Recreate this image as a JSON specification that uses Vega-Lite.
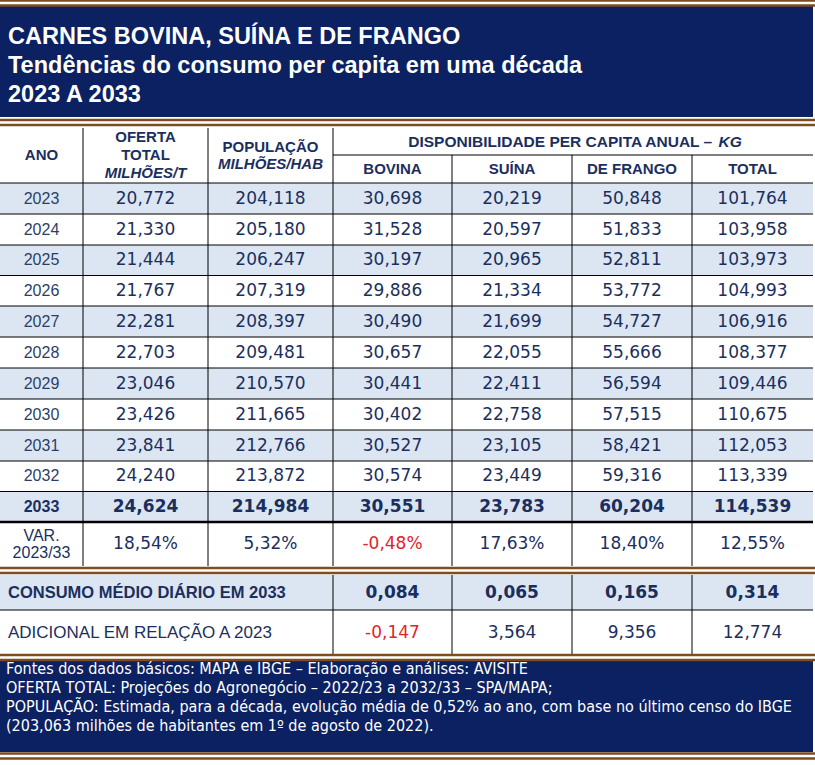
{
 "$schema": "https://vega.github.io/schema/vega-lite/v6.json",
 "width": 815, "height": 765, "autosize": {"type": "none"}, "padding": 0,
 "background": "white",
 "config": {"view": {"stroke": null},
  "locale": {"number": {"decimal": ",", "thousands": ".", "grouping": [3], "currency": ["", ""], "minus": "-"}}},
 "datasets": {
  "notes": [
   {"part": "title", "r": 0, "txt": "CARNES BOVINA, SUÍNA E DE FRANGO\nTendências do consumo per capita em uma década\n2023 A 2033"},
   {"part": "footer", "r": 20, "txt": "Fontes dos dados básicos: MAPA e IBGE – Elaboração e análises: AVISITE\nOFERTA TOTAL: Projeções do Agronegócio – 2022/23 a 2032/33 – SPA/MAPA;\nPOPULAÇÃO: Estimada, para a década, evolução média de 0,52% ao ano, com base no último censo do IBGE\n(203,063 milhões de habitantes em 1º de agosto de 2022)."}
  ],
  "cols": [
   {"key": "oferta", "c": 1.5}, {"key": "pop", "c": 2.5}, {"key": "bovina", "c": 3.5},
   {"key": "suina", "c": 4.5}, {"key": "frango", "c": 5.5}, {"key": "total", "c": 6.5}
  ],
  "hdr": [
   {"txt": "ANO", "c": 0.5, "r": 3},
   {"txt": "OFERTA", "c": 1.5, "r": 2.33},
   {"txt": "TOTAL", "c": 1.5, "r": 3},
   {"txt": "POPULAÇÃO", "c": 2.5, "r": 2.7},
   {"txt": "BOVINA", "c": 3.5, "r": 3.5},
   {"txt": "SUÍNA", "c": 4.5, "r": 3.5},
   {"txt": "DE FRANGO", "c": 5.5, "r": 3.5},
   {"txt": "TOTAL", "c": 6.5, "r": 3.5}
  ],
  "hdrItalic": [
   {"txt": "MILHÕES/T", "c": 1.5, "r": 3.64},
   {"txt": "MILHÕES/HAB", "c": 2.5, "r": 3.32},
   {"txt": "KG", "c": 6.22, "r": 2.5}
  ],
  "hdrSpan": [
   {"txt": "DISPONIBILIDADE PER CAPITA ANUAL –", "c": 6.2, "r": 2.5}
  ],
  "years": [
   {"ano": "2023", "r": 4, "oferta": 20.772, "pop": 204.118, "bovina": 30.698, "suina": 20.219, "frango": 50.848, "total": 101.764},
   {"ano": "2024", "r": 5, "oferta": 21.330, "pop": 205.180, "bovina": 31.528, "suina": 20.597, "frango": 51.833, "total": 103.958},
   {"ano": "2025", "r": 6, "oferta": 21.444, "pop": 206.247, "bovina": 30.197, "suina": 20.965, "frango": 52.811, "total": 103.973},
   {"ano": "2026", "r": 7, "oferta": 21.767, "pop": 207.319, "bovina": 29.886, "suina": 21.334, "frango": 53.772, "total": 104.993},
   {"ano": "2027", "r": 8, "oferta": 22.281, "pop": 208.397, "bovina": 30.490, "suina": 21.699, "frango": 54.727, "total": 106.916},
   {"ano": "2028", "r": 9, "oferta": 22.703, "pop": 209.481, "bovina": 30.657, "suina": 22.055, "frango": 55.666, "total": 108.377},
   {"ano": "2029", "r": 10, "oferta": 23.046, "pop": 210.570, "bovina": 30.441, "suina": 22.411, "frango": 56.594, "total": 109.446},
   {"ano": "2030", "r": 11, "oferta": 23.426, "pop": 211.665, "bovina": 30.402, "suina": 22.758, "frango": 57.515, "total": 110.675},
   {"ano": "2031", "r": 12, "oferta": 23.841, "pop": 212.766, "bovina": 30.527, "suina": 23.105, "frango": 58.421, "total": 112.053},
   {"ano": "2032", "r": 13, "oferta": 24.240, "pop": 213.872, "bovina": 30.574, "suina": 23.449, "frango": 59.316, "total": 113.339},
   {"ano": "2033", "r": 14, "oferta": 24.624, "pop": 214.984, "bovina": 30.551, "suina": 23.783, "frango": 60.204, "total": 114.539}
  ],
  "var": [
   {"label": "VAR.\n2023/33", "r": 15, "oferta": 0.1854, "pop": 0.0532, "bovina": -0.0048, "suina": 0.1763, "frango": 0.1840, "total": 0.1255}
  ],
  "daily": [
   {"label": "CONSUMO MÉDIO DIÁRIO EM 2033", "r": 17, "bovina": 0.084, "suina": 0.065, "frango": 0.165, "total": 0.314},
   {"label": "ADICIONAL EM RELAÇÃO A 2023", "r": 18, "bovina": -0.147, "suina": 3.564, "frango": 9.356, "total": 12.774}
  ],
  "hlines": [
   {"r": 3, "c0": 3, "c1": 7}, {"r": 4, "c0": 0, "c1": 7}, {"r": 5, "c0": 0, "c1": 7}, {"r": 6, "c0": 0, "c1": 7},
   {"r": 7, "c0": 0, "c1": 7}, {"r": 8, "c0": 0, "c1": 7}, {"r": 9, "c0": 0, "c1": 7}, {"r": 10, "c0": 0, "c1": 7},
   {"r": 11, "c0": 0, "c1": 7}, {"r": 12, "c0": 0, "c1": 7}, {"r": 13, "c0": 0, "c1": 7}, {"r": 14, "c0": 0, "c1": 7},
   {"r": 15, "c0": 0, "c1": 7}, {"r": 18, "c0": 0, "c1": 7}
  ],
  "vlines": [
   {"c": 1, "r0": 2, "r1": 16}, {"c": 2, "r0": 2, "r1": 16}, {"c": 3, "r0": 2, "r1": 16}, {"c": 3, "r0": 17, "r1": 19},
   {"c": 4, "r0": 3, "r1": 16}, {"c": 4, "r0": 17, "r1": 19}, {"c": 5, "r0": 3, "r1": 16}, {"c": 5, "r0": 17, "r1": 19},
   {"c": 6, "r0": 3, "r1": 16}, {"c": 6, "r0": 17, "r1": 19}
  ],
  "seps": [{"s": -0.5}, {"s": 1.5}, {"s": 16.5}, {"s": 19.5}, {"s": 21.5}]
 },
 "layer": [
  {"data": {"name": "notes"}, "transform": [{"calculate": "datum.r + 1", "as": "r1"}],
   "mark": {"type": "rect", "color": "#0b2161"},
   "encoding": {
    "x": {"datum": 0, "type": "quantitative", "axis": null, "scale": {"domain": [0,1,2,3,4,5,6,7], "range": [0,83,208,333,452,572,692,813], "zero": false, "nice": false}},
    "x2": {"datum": 7},
    "y": {"field": "r", "type": "quantitative", "axis": null, "scale": {"domain": [-1,0,1,2,3,4,5,6,7,8,9,10,11,12,13,14,15,16,17,18,19,20,21,22,23], "range": [0,6,117,128,155,183,214,245,275.5,306,337,368,399,430,461,491.5,522,566,575,610,655,660,752,760,765], "zero": false, "nice": false}},
    "y2": {"field": "r1"}}},
  {"data": {"name": "years"}, "transform": [{"filter": "datum.r % 2 == 0"}, {"calculate": "datum.r + 1", "as": "r1"}],
   "mark": {"type": "rect", "color": "#dce6f2"},
   "encoding": {
    "x": {"datum": 0, "type": "quantitative", "axis": null, "scale": {"domain": [0,1,2,3,4,5,6,7], "range": [0,83,208,333,452,572,692,813], "zero": false, "nice": false}},
    "x2": {"datum": 7},
    "y": {"field": "r", "type": "quantitative", "axis": null, "scale": {"domain": [-1,0,1,2,3,4,5,6,7,8,9,10,11,12,13,14,15,16,17,18,19,20,21,22,23], "range": [0,6,117,128,155,183,214,245,275.5,306,337,368,399,430,461,491.5,522,566,575,610,655,660,752,760,765], "zero": false, "nice": false}},
    "y2": {"field": "r1"}}},
  {"data": {"name": "daily"}, "transform": [{"filter": "datum.r == 17"}, {"calculate": "datum.r + 1", "as": "r1"}],
   "mark": {"type": "rect", "color": "#dce6f2"},
   "encoding": {
    "x": {"datum": 0, "type": "quantitative", "axis": null, "scale": {"domain": [0,1,2,3,4,5,6,7], "range": [0,83,208,333,452,572,692,813], "zero": false, "nice": false}},
    "x2": {"datum": 7},
    "y": {"field": "r", "type": "quantitative", "axis": null, "scale": {"domain": [-1,0,1,2,3,4,5,6,7,8,9,10,11,12,13,14,15,16,17,18,19,20,21,22,23], "range": [0,6,117,128,155,183,214,245,275.5,306,337,368,399,430,461,491.5,522,566,575,610,655,660,752,760,765], "zero": false, "nice": false}},
    "y2": {"field": "r1"}}},
  {"data": {"name": "hlines"},
   "mark": {"type": "rule", "color": "#000000"},
   "encoding": {
    "x": {"field": "c0", "type": "quantitative", "axis": null, "scale": {"domain": [0,1,2,3,4,5,6,7], "range": [0,83,208,333,452,572,692,813], "zero": false, "nice": false}},
    "x2": {"field": "c1"},
    "y": {"field": "r", "type": "quantitative", "axis": null, "scale": {"domain": [-1,0,1,2,3,4,5,6,7,8,9,10,11,12,13,14,15,16,17,18,19,20,21,22,23], "range": [0,6,117,128,155,183,214,245,275.5,306,337,368,399,430,461,491.5,522,566,575,610,655,660,752,760,765], "zero": false, "nice": false}},
    "strokeWidth": {"condition": {"test": "datum.r == 15", "value": 2.5}, "value": 1}}},
  {"data": {"name": "vlines"},
   "mark": {"type": "rule", "color": "#000000", "strokeWidth": 1},
   "encoding": {
    "x": {"field": "c", "type": "quantitative", "axis": null, "scale": {"domain": [0,1,2,3,4,5,6,7], "range": [0,83,208,333,452,572,692,813], "zero": false, "nice": false}},
    "y": {"field": "r0", "type": "quantitative", "axis": null, "scale": {"domain": [-1,0,1,2,3,4,5,6,7,8,9,10,11,12,13,14,15,16,17,18,19,20,21,22,23], "range": [0,6,117,128,155,183,214,245,275.5,306,337,368,399,430,461,491.5,522,566,575,610,655,660,752,760,765], "zero": false, "nice": false}},
    "y2": {"field": "r1"}}},
  {"data": {"name": "seps"},
   "mark": {"type": "rule", "color": "#7f4b20", "strokeWidth": 2.5, "yOffset": -2.5, "x2Offset": 2},
   "encoding": {
    "x": {"datum": 0, "type": "quantitative", "axis": null, "scale": {"domain": [0,1,2,3,4,5,6,7], "range": [0,83,208,333,452,572,692,813], "zero": false, "nice": false}},
    "x2": {"datum": 7},
    "y": {"field": "s", "type": "quantitative", "axis": null, "scale": {"domain": [-1,0,1,2,3,4,5,6,7,8,9,10,11,12,13,14,15,16,17,18,19,20,21,22,23], "range": [0,6,117,128,155,183,214,245,275.5,306,337,368,399,430,461,491.5,522,566,575,610,655,660,752,760,765], "zero": false, "nice": false}}}},
  {"data": {"name": "seps"},
   "mark": {"type": "rule", "color": "#7f4b20", "strokeWidth": 2.5, "yOffset": 2.5, "x2Offset": 2},
   "encoding": {
    "x": {"datum": 0, "type": "quantitative", "axis": null, "scale": {"domain": [0,1,2,3,4,5,6,7], "range": [0,83,208,333,452,572,692,813], "zero": false, "nice": false}},
    "x2": {"datum": 7},
    "y": {"field": "s", "type": "quantitative", "axis": null, "scale": {"domain": [-1,0,1,2,3,4,5,6,7,8,9,10,11,12,13,14,15,16,17,18,19,20,21,22,23], "range": [0,6,117,128,155,183,214,245,275.5,306,337,368,399,430,461,491.5,522,566,575,610,655,660,752,760,765], "zero": false, "nice": false}}}},
  {"data": {"name": "notes"}, "transform": [{"filter": "datum.part == 'title'"}],
   "mark": {"type": "text", "align": "left", "baseline": "alphabetic", "dx": 8, "dy": 38, "lineBreak": "\n", "lineHeight": 29,
            "font": "Liberation Sans", "fontWeight": "bold", "fontSize": 23.5, "color": "#ffffff"},
   "encoding": {
    "x": {"datum": 0, "type": "quantitative", "axis": null, "scale": {"domain": [0,1,2,3,4,5,6,7], "range": [0,83,208,333,452,572,692,813], "zero": false, "nice": false}},
    "y": {"field": "r", "type": "quantitative", "axis": null, "scale": {"domain": [-1,0,1,2,3,4,5,6,7,8,9,10,11,12,13,14,15,16,17,18,19,20,21,22,23], "range": [0,6,117,128,155,183,214,245,275.5,306,337,368,399,430,461,491.5,522,566,575,610,655,660,752,760,765], "zero": false, "nice": false}},
    "text": {"field": "txt"}}},
  {"data": {"name": "notes"}, "transform": [{"filter": "datum.part == 'footer'"}],
   "mark": {"type": "text", "align": "left", "baseline": "alphabetic", "dx": 6, "dy": 13.5, "lineBreak": "\n", "lineHeight": 19,
            "font": "Liberation Sans Narrow, DejaVu Sans Condensed, Liberation Sans", "fontSize": 16, "color": "#ffffff"},
   "encoding": {
    "x": {"datum": 0, "type": "quantitative", "axis": null, "scale": {"domain": [0,1,2,3,4,5,6,7], "range": [0,83,208,333,452,572,692,813], "zero": false, "nice": false}},
    "y": {"field": "r", "type": "quantitative", "axis": null, "scale": {"domain": [-1,0,1,2,3,4,5,6,7,8,9,10,11,12,13,14,15,16,17,18,19,20,21,22,23], "range": [0,6,117,128,155,183,214,245,275.5,306,337,368,399,430,461,491.5,522,566,575,610,655,660,752,760,765], "zero": false, "nice": false}},
    "text": {"field": "txt"}}},
  {"data": {"name": "hdr"},
   "mark": {"type": "text", "align": "center", "baseline": "middle", "font": "Liberation Sans", "fontWeight": "bold", "fontSize": 15, "color": "#1b2f5e"},
   "encoding": {
    "x": {"field": "c", "type": "quantitative", "axis": null, "scale": {"domain": [0,1,2,3,4,5,6,7], "range": [0,83,208,333,452,572,692,813], "zero": false, "nice": false}},
    "y": {"field": "r", "type": "quantitative", "axis": null, "scale": {"domain": [-1,0,1,2,3,4,5,6,7,8,9,10,11,12,13,14,15,16,17,18,19,20,21,22,23], "range": [0,6,117,128,155,183,214,245,275.5,306,337,368,399,430,461,491.5,522,566,575,610,655,660,752,760,765], "zero": false, "nice": false}},
    "text": {"field": "txt"}}},
  {"data": {"name": "hdrItalic"},
   "mark": {"type": "text", "align": "left", "baseline": "middle", "font": "Liberation Sans", "fontWeight": "bold", "fontStyle": "italic", "fontSize": 15.5, "color": "#1b2f5e"},
   "transform": [{"filter": "datum.txt == 'KG'"}],
   "encoding": {
    "x": {"field": "c", "type": "quantitative", "axis": null, "scale": {"domain": [0,1,2,3,4,5,6,7], "range": [0,83,208,333,452,572,692,813], "zero": false, "nice": false}},
    "y": {"field": "r", "type": "quantitative", "axis": null, "scale": {"domain": [-1,0,1,2,3,4,5,6,7,8,9,10,11,12,13,14,15,16,17,18,19,20,21,22,23], "range": [0,6,117,128,155,183,214,245,275.5,306,337,368,399,430,461,491.5,522,566,575,610,655,660,752,760,765], "zero": false, "nice": false}},
    "text": {"field": "txt"}}},
  {"data": {"name": "hdrItalic"},
   "mark": {"type": "text", "align": "center", "baseline": "middle", "font": "Liberation Sans", "fontWeight": "bold", "fontStyle": "italic", "fontSize": 15, "color": "#1b2f5e"},
   "transform": [{"filter": "datum.txt != 'KG'"}],
   "encoding": {
    "x": {"field": "c", "type": "quantitative", "axis": null, "scale": {"domain": [0,1,2,3,4,5,6,7], "range": [0,83,208,333,452,572,692,813], "zero": false, "nice": false}},
    "y": {"field": "r", "type": "quantitative", "axis": null, "scale": {"domain": [-1,0,1,2,3,4,5,6,7,8,9,10,11,12,13,14,15,16,17,18,19,20,21,22,23], "range": [0,6,117,128,155,183,214,245,275.5,306,337,368,399,430,461,491.5,522,566,575,610,655,660,752,760,765], "zero": false, "nice": false}},
    "text": {"field": "txt"}}},
  {"data": {"name": "hdrSpan"},
   "mark": {"type": "text", "align": "right", "baseline": "middle", "dx": -4, "font": "Liberation Sans", "fontWeight": "bold", "fontSize": 15.5, "color": "#1b2f5e"},
   "encoding": {
    "x": {"field": "c", "type": "quantitative", "axis": null, "scale": {"domain": [0,1,2,3,4,5,6,7], "range": [0,83,208,333,452,572,692,813], "zero": false, "nice": false}},
    "y": {"field": "r", "type": "quantitative", "axis": null, "scale": {"domain": [-1,0,1,2,3,4,5,6,7,8,9,10,11,12,13,14,15,16,17,18,19,20,21,22,23], "range": [0,6,117,128,155,183,214,245,275.5,306,337,368,399,430,461,491.5,522,566,575,610,655,660,752,760,765], "zero": false, "nice": false}},
    "text": {"field": "txt"}}},
  {"data": {"name": "years"}, "transform": [{"filter": "datum.ano != '2033'"}, {"calculate": "datum.r + 0.5", "as": "rc"}],
   "mark": {"type": "text", "align": "center", "baseline": "middle", "font": "Liberation Sans", "fontSize": 16, "color": "#2b3f66"},
   "encoding": {
    "x": {"datum": 0.5, "type": "quantitative", "axis": null, "scale": {"domain": [0,1,2,3,4,5,6,7], "range": [0,83,208,333,452,572,692,813], "zero": false, "nice": false}},
    "y": {"field": "rc", "type": "quantitative", "axis": null, "scale": {"domain": [-1,0,1,2,3,4,5,6,7,8,9,10,11,12,13,14,15,16,17,18,19,20,21,22,23], "range": [0,6,117,128,155,183,214,245,275.5,306,337,368,399,430,461,491.5,522,566,575,610,655,660,752,760,765], "zero": false, "nice": false}},
    "text": {"field": "ano"}}},
  {"data": {"name": "years"}, "transform": [{"filter": "datum.ano == '2033'"}, {"calculate": "datum.r + 0.5", "as": "rc"}],
   "mark": {"type": "text", "align": "center", "baseline": "middle", "font": "Liberation Sans", "fontWeight": "bold", "fontSize": 16, "color": "#1b2f5e"},
   "encoding": {
    "x": {"datum": 0.5, "type": "quantitative", "axis": null, "scale": {"domain": [0,1,2,3,4,5,6,7], "range": [0,83,208,333,452,572,692,813], "zero": false, "nice": false}},
    "y": {"field": "rc", "type": "quantitative", "axis": null, "scale": {"domain": [-1,0,1,2,3,4,5,6,7,8,9,10,11,12,13,14,15,16,17,18,19,20,21,22,23], "range": [0,6,117,128,155,183,214,245,275.5,306,337,368,399,430,461,491.5,522,566,575,610,655,660,752,760,765], "zero": false, "nice": false}},
    "text": {"field": "ano"}}},
  {"data": {"name": "years"},
   "transform": [{"filter": "datum.ano != '2033'"}, {"fold": ["oferta", "pop", "bovina", "suina", "frango", "total"]},
                 {"lookup": "key", "from": {"data": {"name": "cols"}, "key": "key", "fields": ["c"]}},
                 {"calculate": "datum.r + 0.5", "as": "rc"}],
   "mark": {"type": "text", "align": "center", "baseline": "middle", "font": "DejaVu Sans", "fontSize": 17, "color": "#1b2f5e"},
   "encoding": {
    "x": {"field": "c", "type": "quantitative", "axis": null, "scale": {"domain": [0,1,2,3,4,5,6,7], "range": [0,83,208,333,452,572,692,813], "zero": false, "nice": false}},
    "y": {"field": "rc", "type": "quantitative", "axis": null, "scale": {"domain": [-1,0,1,2,3,4,5,6,7,8,9,10,11,12,13,14,15,16,17,18,19,20,21,22,23], "range": [0,6,117,128,155,183,214,245,275.5,306,337,368,399,430,461,491.5,522,566,575,610,655,660,752,760,765], "zero": false, "nice": false}},
    "text": {"field": "value", "type": "quantitative", "format": ".3f"}}},
  {"data": {"name": "years"},
   "transform": [{"filter": "datum.ano == '2033'"}, {"fold": ["oferta", "pop", "bovina", "suina", "frango", "total"]},
                 {"lookup": "key", "from": {"data": {"name": "cols"}, "key": "key", "fields": ["c"]}},
                 {"calculate": "datum.r + 0.5", "as": "rc"}],
   "mark": {"type": "text", "align": "center", "baseline": "middle", "font": "DejaVu Sans", "fontWeight": "bold", "fontSize": 17, "color": "#1b2f5e"},
   "encoding": {
    "x": {"field": "c", "type": "quantitative", "axis": null, "scale": {"domain": [0,1,2,3,4,5,6,7], "range": [0,83,208,333,452,572,692,813], "zero": false, "nice": false}},
    "y": {"field": "rc", "type": "quantitative", "axis": null, "scale": {"domain": [-1,0,1,2,3,4,5,6,7,8,9,10,11,12,13,14,15,16,17,18,19,20,21,22,23], "range": [0,6,117,128,155,183,214,245,275.5,306,337,368,399,430,461,491.5,522,566,575,610,655,660,752,760,765], "zero": false, "nice": false}},
    "text": {"field": "value", "type": "quantitative", "format": ".3f"}}},
  {"data": {"name": "var"}, "transform": [{"calculate": "datum.r + 0.5", "as": "rc"}],
   "mark": {"type": "text", "align": "center", "baseline": "middle", "dy": -8, "lineBreak": "\n", "lineHeight": 17, "font": "Liberation Sans", "fontSize": 16, "color": "#1b2f5e"},
   "encoding": {
    "x": {"datum": 0.5, "type": "quantitative", "axis": null, "scale": {"domain": [0,1,2,3,4,5,6,7], "range": [0,83,208,333,452,572,692,813], "zero": false, "nice": false}},
    "y": {"field": "rc", "type": "quantitative", "axis": null, "scale": {"domain": [-1,0,1,2,3,4,5,6,7,8,9,10,11,12,13,14,15,16,17,18,19,20,21,22,23], "range": [0,6,117,128,155,183,214,245,275.5,306,337,368,399,430,461,491.5,522,566,575,610,655,660,752,760,765], "zero": false, "nice": false}},
    "text": {"field": "label"}}},
  {"data": {"name": "var"},
   "transform": [{"fold": ["oferta", "pop", "bovina", "suina", "frango", "total"]},
                 {"lookup": "key", "from": {"data": {"name": "cols"}, "key": "key", "fields": ["c"]}},
                 {"calculate": "datum.r + 0.5", "as": "rc"}],
   "mark": {"type": "text", "align": "center", "baseline": "middle", "font": "DejaVu Sans", "fontSize": 17},
   "encoding": {
    "x": {"field": "c", "type": "quantitative", "axis": null, "scale": {"domain": [0,1,2,3,4,5,6,7], "range": [0,83,208,333,452,572,692,813], "zero": false, "nice": false}},
    "y": {"field": "rc", "type": "quantitative", "axis": null, "scale": {"domain": [-1,0,1,2,3,4,5,6,7,8,9,10,11,12,13,14,15,16,17,18,19,20,21,22,23], "range": [0,6,117,128,155,183,214,245,275.5,306,337,368,399,430,461,491.5,522,566,575,610,655,660,752,760,765], "zero": false, "nice": false}},
    "text": {"field": "value", "type": "quantitative", "format": ".2%"},
    "color": {"condition": {"test": "datum.value < 0", "value": "#e8202a"}, "value": "#1b2f5e"}}},
  {"data": {"name": "daily"}, "transform": [{"filter": "datum.r == 17"}, {"calculate": "datum.r + 0.5", "as": "rc"}],
   "mark": {"type": "text", "align": "left", "baseline": "middle", "dx": 8, "font": "Liberation Sans", "fontWeight": "bold", "fontSize": 16.5, "color": "#1b2f5e"},
   "encoding": {
    "x": {"datum": 0, "type": "quantitative", "axis": null, "scale": {"domain": [0,1,2,3,4,5,6,7], "range": [0,83,208,333,452,572,692,813], "zero": false, "nice": false}},
    "y": {"field": "rc", "type": "quantitative", "axis": null, "scale": {"domain": [-1,0,1,2,3,4,5,6,7,8,9,10,11,12,13,14,15,16,17,18,19,20,21,22,23], "range": [0,6,117,128,155,183,214,245,275.5,306,337,368,399,430,461,491.5,522,566,575,610,655,660,752,760,765], "zero": false, "nice": false}},
    "text": {"field": "label"}}},
  {"data": {"name": "daily"}, "transform": [{"filter": "datum.r == 18"}, {"calculate": "datum.r + 0.5", "as": "rc"}],
   "mark": {"type": "text", "align": "left", "baseline": "middle", "dx": 8, "font": "Liberation Sans", "fontSize": 17, "color": "#1b2f5e"},
   "encoding": {
    "x": {"datum": 0, "type": "quantitative", "axis": null, "scale": {"domain": [0,1,2,3,4,5,6,7], "range": [0,83,208,333,452,572,692,813], "zero": false, "nice": false}},
    "y": {"field": "rc", "type": "quantitative", "axis": null, "scale": {"domain": [-1,0,1,2,3,4,5,6,7,8,9,10,11,12,13,14,15,16,17,18,19,20,21,22,23], "range": [0,6,117,128,155,183,214,245,275.5,306,337,368,399,430,461,491.5,522,566,575,610,655,660,752,760,765], "zero": false, "nice": false}},
    "text": {"field": "label"}}},
  {"data": {"name": "daily"},
   "transform": [{"filter": "datum.r == 17"}, {"fold": ["bovina", "suina", "frango", "total"]},
                 {"lookup": "key", "from": {"data": {"name": "cols"}, "key": "key", "fields": ["c"]}},
                 {"calculate": "datum.r + 0.5", "as": "rc"}],
   "mark": {"type": "text", "align": "center", "baseline": "middle", "font": "DejaVu Sans", "fontWeight": "bold", "fontSize": 17, "color": "#1b2f5e"},
   "encoding": {
    "x": {"field": "c", "type": "quantitative", "axis": null, "scale": {"domain": [0,1,2,3,4,5,6,7], "range": [0,83,208,333,452,572,692,813], "zero": false, "nice": false}},
    "y": {"field": "rc", "type": "quantitative", "axis": null, "scale": {"domain": [-1,0,1,2,3,4,5,6,7,8,9,10,11,12,13,14,15,16,17,18,19,20,21,22,23], "range": [0,6,117,128,155,183,214,245,275.5,306,337,368,399,430,461,491.5,522,566,575,610,655,660,752,760,765], "zero": false, "nice": false}},
    "text": {"field": "value", "type": "quantitative", "format": ".3f"}}},
  {"data": {"name": "daily"},
   "transform": [{"filter": "datum.r == 18"}, {"fold": ["bovina", "suina", "frango", "total"]},
                 {"lookup": "key", "from": {"data": {"name": "cols"}, "key": "key", "fields": ["c"]}},
                 {"calculate": "datum.r + 0.5", "as": "rc"}],
   "mark": {"type": "text", "align": "center", "baseline": "middle", "font": "DejaVu Sans", "fontSize": 17},
   "encoding": {
    "x": {"field": "c", "type": "quantitative", "axis": null, "scale": {"domain": [0,1,2,3,4,5,6,7], "range": [0,83,208,333,452,572,692,813], "zero": false, "nice": false}},
    "y": {"field": "rc", "type": "quantitative", "axis": null, "scale": {"domain": [-1,0,1,2,3,4,5,6,7,8,9,10,11,12,13,14,15,16,17,18,19,20,21,22,23], "range": [0,6,117,128,155,183,214,245,275.5,306,337,368,399,430,461,491.5,522,566,575,610,655,660,752,760,765], "zero": false, "nice": false}},
    "text": {"field": "value", "type": "quantitative", "format": ".3f"},
    "color": {"condition": {"test": "datum.value < 0", "value": "#e8202a"}, "value": "#1b2f5e"}}}
 ]
}
